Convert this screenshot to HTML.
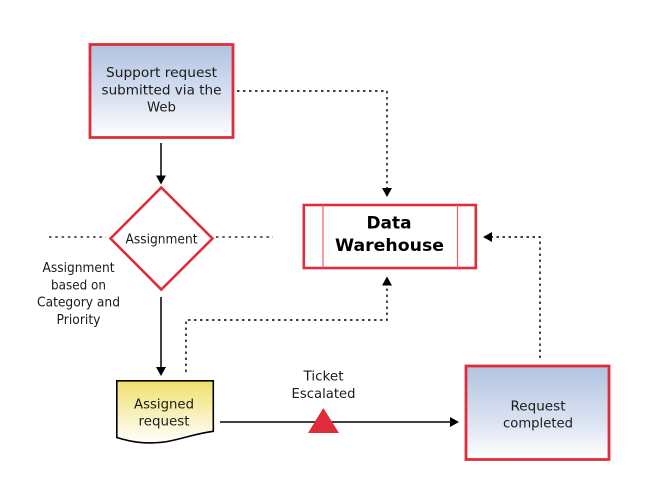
<!DOCTYPE html>
<html>
<head>
<meta charset="utf-8">
<style>
html,body{margin:0;padding:0;background:#fff;}
svg{display:block;}
text{font-family:"DejaVu Sans","Liberation Sans",sans-serif;font-size:13.6px;fill:#1a1a1a;text-anchor:middle;}
</style>
</head>
<body>
<svg width="648" height="504" viewBox="0 0 648 504" xmlns="http://www.w3.org/2000/svg">
<defs>
<linearGradient id="b" x1="0" y1="0" x2="0" y2="1">
<stop offset="0" stop-color="#b0c3e0"/>
<stop offset="0.6" stop-color="#dbe3f2"/>
<stop offset="1" stop-color="#ffffff"/>
</linearGradient>
<linearGradient id="y" x1="0" y1="0" x2="0" y2="1">
<stop offset="0" stop-color="#efe06c"/>
<stop offset="1" stop-color="#ffffff"/>
</linearGradient>
</defs>

<rect x="90" y="44.5" width="143" height="93" fill="url(#b)" stroke="#e02d3c" stroke-width="2.8"/>
<text x="161.5" y="77" textLength="111" lengthAdjust="spacingAndGlyphs">Support request</text>
<text x="161.5" y="94.5" textLength="120" lengthAdjust="spacingAndGlyphs">submitted via the</text>
<text x="161.5" y="111.5" textLength="29" lengthAdjust="spacingAndGlyphs">Web</text>

<path d="M161 143V177" stroke="#000" stroke-width="1.5" fill="none"/>
<path d="M156 175.5H166L161 184.5Z" fill="#000"/>

<path d="M237 91H387V189" stroke="#000" stroke-width="1.4" fill="none" stroke-dasharray="2.5 3.5"/>
<path d="M382 188H392L387 197Z" fill="#000"/>

<path d="M161.3 187.5L212.5 238.5L161.3 289.5L110.5 238.5Z" fill="#fff" stroke="#e02d3c" stroke-width="2.6"/>
<text x="161.5" y="243.5" textLength="72" lengthAdjust="spacingAndGlyphs">Assignment</text>

<path d="M49 237H106" stroke="#000" stroke-width="1.2" fill="none" stroke-dasharray="2.5 3.8"/>
<path d="M216 237H273" stroke="#000" stroke-width="1.2" fill="none" stroke-dasharray="2.5 3.8"/>

<text x="78.5" y="272" textLength="72" lengthAdjust="spacingAndGlyphs">Assignment</text>
<text x="78.5" y="289.5" textLength="55" lengthAdjust="spacingAndGlyphs">based on</text>
<text x="78.5" y="306.5" textLength="83" lengthAdjust="spacingAndGlyphs">Category and</text>
<text x="78.5" y="324" textLength="44" lengthAdjust="spacingAndGlyphs">Priority</text>

<path d="M161 297V368" stroke="#000" stroke-width="1.5" fill="none"/>
<path d="M156 367H166L161 376Z" fill="#000"/>

<path d="M186 372V320H387V284" stroke="#000" stroke-width="1.4" fill="none" stroke-dasharray="2.5 3.5"/>
<path d="M382 285.5H392L387 276.5Z" fill="#000"/>

<rect x="303.8" y="205" width="172" height="63" fill="#fff" stroke="#e02d3c" stroke-width="2.6"/>
<path d="M323 205V268M457.5 205V268" stroke="#e8606c" stroke-width="1.2" fill="none"/>
<text x="389" y="228.5" style="font-size:17px;font-weight:bold;fill:#000" textLength="45" lengthAdjust="spacingAndGlyphs">Data</text>
<text x="389.5" y="251" style="font-size:17px;font-weight:bold;fill:#000" textLength="109" lengthAdjust="spacingAndGlyphs">Warehouse</text>

<path d="M540 358V237H491" stroke="#000" stroke-width="1.4" fill="none" stroke-dasharray="2.5 3.5"/>
<path d="M492 232V242L483 237Z" fill="#000"/>

<path d="M116.8 380.8H213.3V431.3C196 433.5 185 438 170 441C152 444.5 134 443 116.8 437.5Z" fill="url(#y)" stroke="#000" stroke-width="1.6"/>
<text x="164" y="408.5" textLength="60" lengthAdjust="spacingAndGlyphs">Assigned</text>
<text x="164" y="425.5" textLength="51" lengthAdjust="spacingAndGlyphs">request</text>

<path d="M220 422H452" stroke="#000" stroke-width="1.4" fill="none"/>
<path d="M450 417V427L459 422Z" fill="#000"/>
<path d="M323.3 408L339 433H308Z" fill="#e02d3c"/>

<text x="323.5" y="380.5" textLength="40" lengthAdjust="spacingAndGlyphs">Ticket</text>
<text x="323.5" y="398" textLength="64" lengthAdjust="spacingAndGlyphs">Escalated</text>

<rect x="466" y="366" width="143" height="93.5" fill="url(#b)" stroke="#e02d3c" stroke-width="2.8"/>
<text x="538" y="410.5" textLength="55" lengthAdjust="spacingAndGlyphs">Request</text>
<text x="538" y="427.5" textLength="70" lengthAdjust="spacingAndGlyphs">completed</text>
</svg>
</body>
</html>
